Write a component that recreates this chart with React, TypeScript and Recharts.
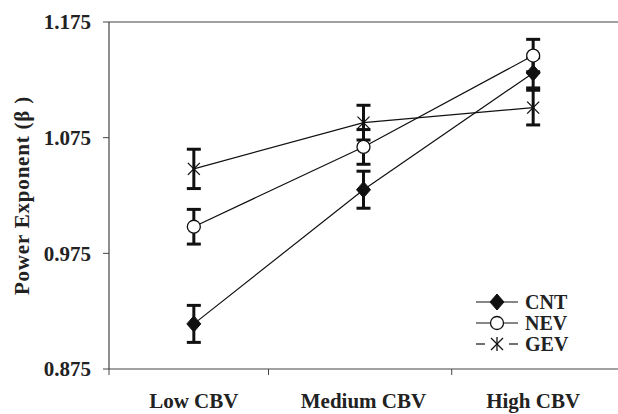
import React from 'react';
import { LineChart, Line, XAxis, YAxis, ErrorBar, ReferenceLine, Legend } from 'recharts';

const categories = ['Low CBV', 'Medium CBV', 'High CBV'];
const catPositions = [0.5, 1.5, 2.5];
const tickMarks = [0, 0.94, 2.02];
const yTicks = [0.875, 0.975, 1.075, 1.175];

const cntValues = [0.914, 1.030, 1.131];
const cntErrors = [0.016, 0.016, 0.013];
const nevValues = [0.998, 1.067, 1.146];
const nevErrors = [0.015, 0.015, 0.014];
const gevValues = [1.048, 1.088, 1.101];
const gevErrors = [0.017, 0.015, 0.015];

const data = categories.map((c, i) => ({
  name: c,
  x: catPositions[i],
  cnt: cntValues[i],
  cntErr: cntErrors[i],
  nev: nevValues[i],
  nevErr: nevErrors[i],
  gev: gevValues[i],
  gevErr: gevErrors[i],
}));

const FONT = '"Liberation Serif", "Times New Roman", serif';
const INK = '#111';

const Diamond = ({ cx, cy }: { cx: number; cy: number }) => (
  <polygon points={`${cx},${cy - 8} ${cx + 7},${cy} ${cx},${cy + 8} ${cx - 7},${cy}`} fill={INK} stroke={INK} strokeWidth={1} />
);
const Circle = ({ cx, cy }: { cx: number; cy: number }) => (
  <circle cx={cx} cy={cy} r={6.5} fill="#fff" stroke={INK} strokeWidth={1.3} />
);
const Star = ({ cx, cy }: { cx: number; cy: number }) => (
  <g stroke={INK} strokeWidth={1.3}>
    <line x1={cx - 6} y1={cy - 6} x2={cx + 6} y2={cy + 6} />
    <line x1={cx - 6} y1={cy + 6} x2={cx + 6} y2={cy - 6} />
    <line x1={cx} y1={cy - 7} x2={cx} y2={cy + 7} />
  </g>
);

const mkDot = (Comp: any, name: string) => (props: any) => {
  const { cx, cy, index } = props;
  if (cx == null || cy == null) return <g key={`${name}-${index}`} />;
  return (
    <g key={`${name}-${index}`}>
      <Comp cx={cx} cy={cy} />
    </g>
  );
};

const xTicks = [...tickMarks, ...catPositions].sort((a, b) => a - b);

const XTick = (props: any) => {
  const { x, y, payload } = props;
  const idx = catPositions.indexOf(payload.value);
  if (idx >= 0) {
    return (
      <text x={x} y={y + 31} textAnchor="middle" fontFamily={FONT} fontWeight="bold" fontSize={21} fill="#222">
        {categories[idx]}
      </text>
    );
  }
  return <line x1={x} y1={y - 8} x2={x} y2={y - 2} stroke="#444" strokeWidth={1} />;
};

const legendItems = [
  { label: 'CNT', Comp: Diamond, gap: false },
  { label: 'NEV', Comp: Circle, gap: false },
  { label: 'GEV', Comp: Star, gap: true },
];

const renderLegend = () => (
  <svg width={120} height={70}>
    {legendItems.map((it, i) => {
      const cy = 10 + i * 21;
      const cx = 27;
      return (
        <g key={it.label}>
          {it.gap ? (
            <g stroke={INK} strokeWidth={1.2}>
              <line x1={6} y1={cy} x2={15} y2={cy} />
              <line x1={39} y1={cy} x2={48} y2={cy} />
            </g>
          ) : (
            <line x1={6} y1={cy} x2={48} y2={cy} stroke={INK} strokeWidth={1.2} />
          )}
          <it.Comp cx={cx} cy={cy} />
          <text x={55} y={cy + 7} fontFamily={FONT} fontWeight="bold" fontSize={20} fill="#222">
            {it.label}
          </text>
        </g>
      );
    })}
  </svg>
);

export default function App() {
  return (
    <div style={{ position: 'absolute', left: 0, top: 0, width: 618, height: 414, background: '#fff' }}>
      <LineChart width={618} height={414} data={data} margin={{ top: 22, right: 0, bottom: 0, left: 0 }}>
        <XAxis
          dataKey="x"
          type="number"
          domain={[0, 3]}
          ticks={xTicks}
          interval={0}
          tick={<XTick />}
          tickLine={false}
          axisLine={{ stroke: '#444', strokeWidth: 1.2 }}
          height={45}
        />
        <YAxis
          type="number"
          domain={[0.875, 1.175]}
          allowDataOverflow
          ticks={yTicks}
          interval={0}
          tickFormatter={(v: number) => v.toFixed(3)}
          width={109}
          tickSize={6}
          tickMargin={12}
          tick={{ fontFamily: FONT, fontWeight: 'bold', fontSize: 21, fill: '#222' }}
          tickLine={{ stroke: '#444' }}
          axisLine={{ stroke: '#444', strokeWidth: 1.2 }}
          label={{
            value: 'Power Exponent (β )',
            angle: -90,
            position: 'insideLeft',
            offset: 22,
            textAnchor: 'middle',
            fontFamily: FONT,
            fontWeight: 'bold',
            fontSize: 21,
            letterSpacing: 0.8,
            fill: '#222',
          }}
        />
        <ReferenceLine y={1.175} stroke="#444" strokeWidth={1.2} />
        <Line dataKey="cnt" stroke={INK} strokeWidth={1.2} isAnimationActive={false} dot={mkDot(Diamond, 'cnt')} activeDot={false}>
          <ErrorBar dataKey="cntErr" direction="y" width={7} strokeWidth={3} stroke={INK} isAnimationActive={false} />
        </Line>
        <Line dataKey="nev" stroke={INK} strokeWidth={1.2} isAnimationActive={false} dot={mkDot(Circle, 'nev')} activeDot={false}>
          <ErrorBar dataKey="nevErr" direction="y" width={7} strokeWidth={3} stroke={INK} isAnimationActive={false} />
        </Line>
        <Line dataKey="gev" stroke={INK} strokeWidth={1.2} isAnimationActive={false} dot={mkDot(Star, 'gev')} activeDot={false}>
          <ErrorBar dataKey="gevErr" direction="y" width={7} strokeWidth={3} stroke={INK} isAnimationActive={false} />
        </Line>
        <Legend
          layout="vertical"
          align="center"
          verticalAlign="middle"
          content={renderLegend}
          wrapperStyle={{ left: 470, top: 292, width: 120, height: 70 }}
        />
      </LineChart>
    </div>
  );
}
